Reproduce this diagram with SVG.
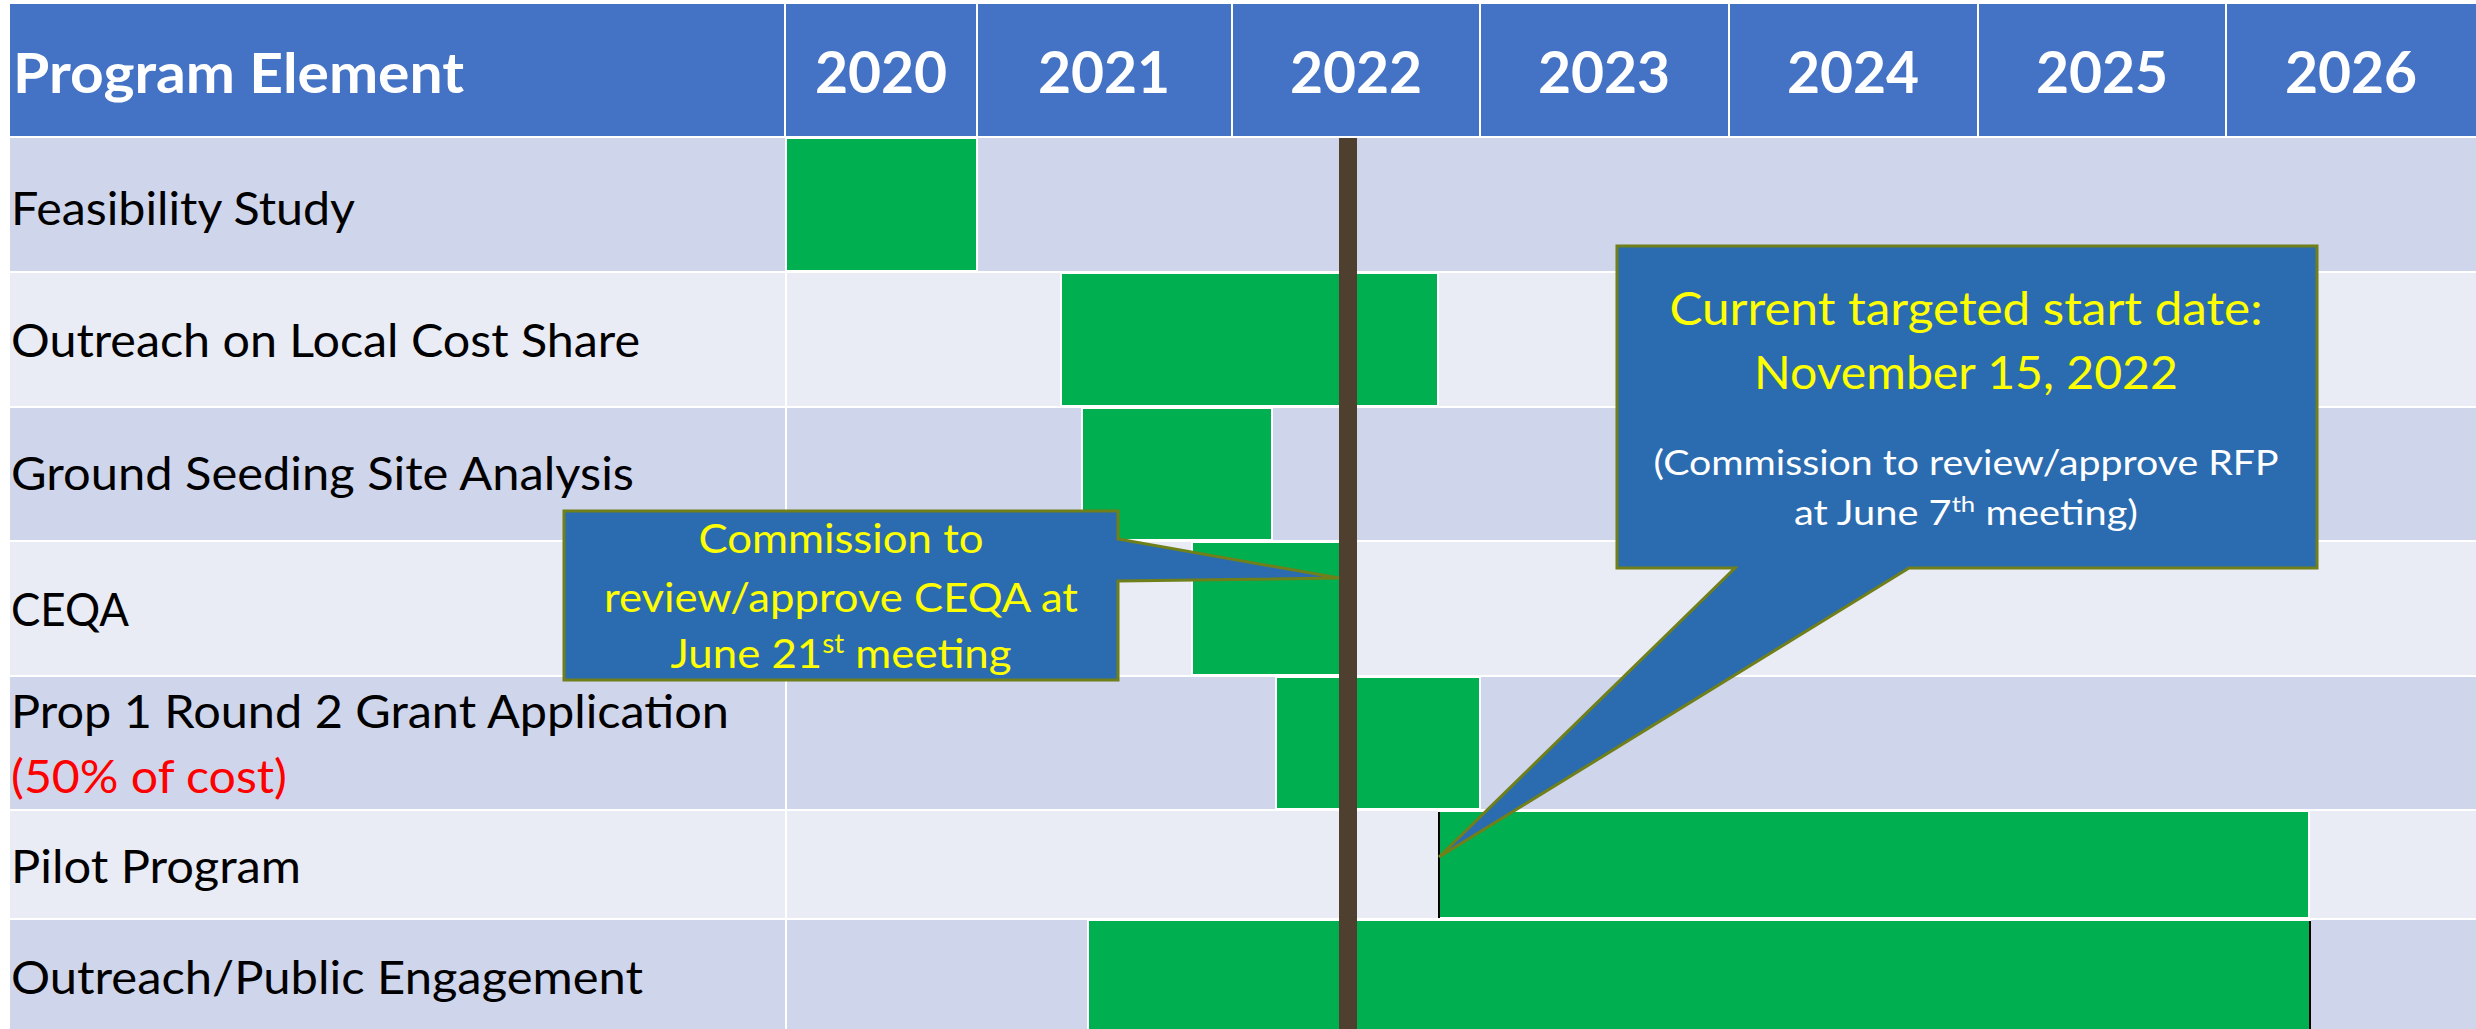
<svg xmlns="http://www.w3.org/2000/svg" width="2476" height="1029" viewBox="0 0 2476 1029">
<style>
.hdr{fill:#4472C4}
.dark{fill:#CFD5EA}
.light{fill:#E9EBF5}
.bar{fill:#00B050;stroke:#FFFFFF;stroke-width:2}
.ht{font-family:Lato,"Open Sans",sans-serif;font-weight:bold;font-size:56px;fill:#FFFFFF}
.yr{text-anchor:middle;font-size:57px}
.lbl{font-family:Lato,"Open Sans",sans-serif;font-size:46px;fill:#000000}
.call{fill:#2B6CB0;stroke:#6F7F1A;stroke-width:3;stroke-linejoin:miter}
.ct{font-family:Lato,"Open Sans",sans-serif;fill:#FFFF00;text-anchor:middle}
.cw{font-family:Lato,"Open Sans",sans-serif;fill:#FFFFFF;text-anchor:middle}
.div{stroke:#FFFFFF;stroke-width:2}
</style>
<rect x="0" y="0" width="2476" height="1029" fill="#FFFFFF"/>
<g id="header">
<rect class="hdr" x="10" y="4" width="2466" height="132"/>
<line class="div" x1="785" y1="4" x2="785" y2="136"/>
<line class="div" x1="977" y1="4" x2="977" y2="136"/>
<line class="div" x1="1232" y1="4" x2="1232" y2="136"/>
<line class="div" x1="1480" y1="4" x2="1480" y2="136"/>
<line class="div" x1="1729" y1="4" x2="1729" y2="136"/>
<line class="div" x1="1978" y1="4" x2="1978" y2="136"/>
<line class="div" x1="2226" y1="4" x2="2226" y2="136"/>
<text class="ht" x="13" y="93" textLength="451" lengthAdjust="spacingAndGlyphs">Program Element</text>
<text class="ht yr" x="881" y="93">2020</text>
<text class="ht yr" x="1104" y="93">2021</text>
<text class="ht yr" x="1356" y="93">2022</text>
<text class="ht yr" x="1604" y="93">2023</text>
<text class="ht yr" x="1853" y="93">2024</text>
<text class="ht yr" x="2102" y="93">2025</text>
<text class="ht yr" x="2351" y="93">2026</text>
</g>
<g id="rows">
<rect class="dark" x="10" y="138" width="2466" height="133"/>
<rect class="light" x="10" y="273" width="2466" height="133"/>
<rect class="dark" x="10" y="408" width="2466" height="132"/>
<rect class="light" x="10" y="542" width="2466" height="133"/>
<rect class="dark" x="10" y="677" width="2466" height="132"/>
<rect class="light" x="10" y="811" width="2466" height="107"/>
<rect class="dark" x="10" y="920" width="2466" height="109"/>
<line class="div" x1="786" y1="136" x2="786" y2="1029"/>
</g>
<g id="labels">
<text class="lbl" x="11" y="225" textLength="344" lengthAdjust="spacingAndGlyphs">Feasibility Study</text>
<text class="lbl" x="11" y="357" textLength="629" lengthAdjust="spacingAndGlyphs">Outreach on Local Cost Share</text>
<text class="lbl" x="11" y="490" textLength="623" lengthAdjust="spacingAndGlyphs">Ground Seeding Site Analysis</text>
<text class="lbl" x="11" y="626" textLength="118" lengthAdjust="spacingAndGlyphs">CEQA</text>
<text class="lbl" x="11" y="728" textLength="718" lengthAdjust="spacingAndGlyphs">Prop 1 Round 2 Grant Application</text>
<text class="lbl" x="11" y="793" textLength="276" lengthAdjust="spacingAndGlyphs" style="fill:#FF0000">(50% of cost)</text>
<text class="lbl" x="11" y="883" textLength="290" lengthAdjust="spacingAndGlyphs">Pilot Program</text>
<text class="lbl" x="11" y="994" textLength="632" lengthAdjust="spacingAndGlyphs">Outreach/Public Engagement</text>
</g>
<g id="bars">
<rect id="bar-feasibility" class="bar" x="786" y="138" width="191" height="133"/>
<rect id="bar-outreach-local" class="bar" x="1061" y="273" width="377" height="133"/>
<rect id="bar-ground-seeding" class="bar" x="1082" y="408" width="190" height="132"/>
<rect id="bar-ceqa" class="bar" x="1192" y="542" width="158" height="133"/>
<rect id="bar-prop1" class="bar" x="1276" y="677" width="204" height="132"/>
<rect id="bar-pilot" class="bar" x="1439" y="811" width="870" height="107"/>
<line x1="1439" y1="812" x2="1439" y2="918" stroke="#000000" stroke-width="2"/>
<rect id="bar-outreach-public" class="bar" x="1088" y="920" width="1222" height="111"/>
<line x1="2310" y1="921" x2="2310" y2="1029" stroke="#000000" stroke-width="2"/>
</g>
<g id="today-line">
<rect x="1339" y="138" width="18" height="891" fill="#4F3F2F"/>
</g>
<g id="callout-ceqa">
<path class="call" d="M564,511 H1118 V539 L1339,578 L1118,581 V680 H564 Z"/>
<text class="ct" x="841" y="553" font-size="41" textLength="285" lengthAdjust="spacingAndGlyphs">Commission to</text>
<text class="ct" x="841" y="612" font-size="41" textLength="474" lengthAdjust="spacingAndGlyphs">review/approve CEQA at</text>
<text class="ct" x="841" y="668" font-size="41" textLength="341" lengthAdjust="spacingAndGlyphs">June 21<tspan font-size="26" dy="-15">st</tspan><tspan dy="15"> meeting</tspan></text>
</g>
<g id="callout-start">
<path class="call" d="M1617,246 H2317 V568 H1909 L1439,857 L1735,568 H1617 Z"/>
<text class="ct" x="1966" y="325" font-size="46" textLength="593" lengthAdjust="spacingAndGlyphs">Current targeted start date:</text>
<text class="ct" x="1966" y="389" font-size="46" textLength="424" lengthAdjust="spacingAndGlyphs">November 15, 2022</text>
<text class="cw" x="1966" y="475" font-size="34" textLength="625" lengthAdjust="spacingAndGlyphs">(Commission to review/approve RFP</text>
<text class="cw" x="1966" y="525" font-size="34" textLength="344" lengthAdjust="spacingAndGlyphs">at June 7<tspan font-size="22" dy="-13">th</tspan><tspan dy="13"> meeting)</tspan></text>
</g>
</svg>
